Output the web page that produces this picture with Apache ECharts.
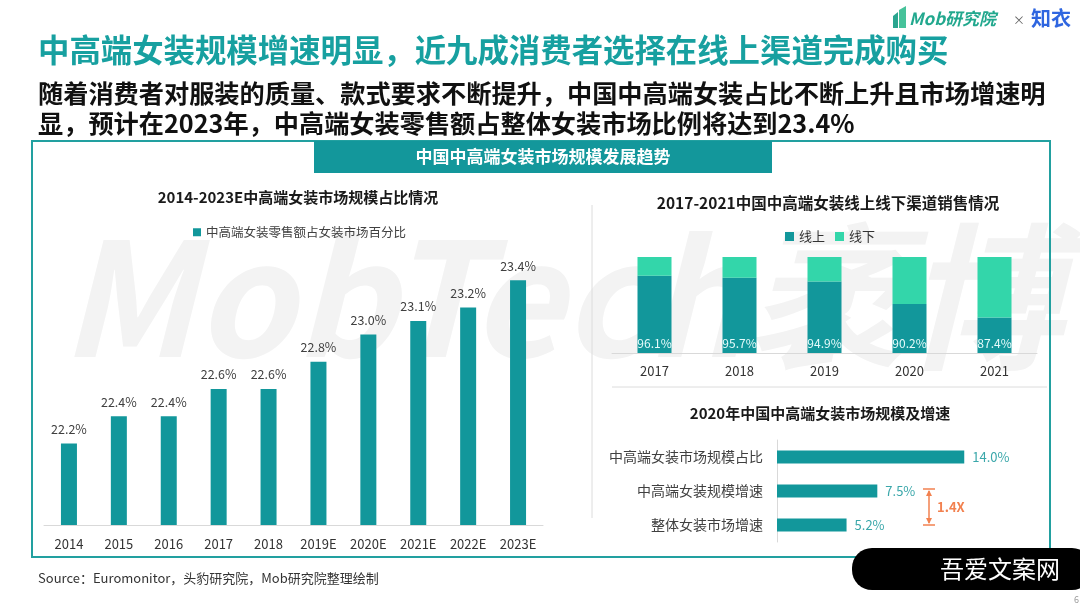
<!DOCTYPE html>
<html><head><meta charset="utf-8">
<script src="https://cdn.jsdelivr.net/npm/echarts@6/dist/echarts.min.js"></script>
<style>html,body{margin:0;padding:0;background:#fff}#c{width:1080px;height:608px}</style>
</head><body><div id="c"></div>
<script>
// ---- data ----
const shareYears = ['2014','2015','2016','2017','2018','2019E','2020E','2021E','2022E','2023E'];
const shareValues = [22.2,22.4,22.4,22.6,22.6,22.8,23.0,23.1,23.2,23.4];
const channelYears = ['2017','2018','2019','2020','2021'];
const onlineValues = [96.1,95.7,94.9,90.2,87.4];
const offlineValues = [3.9,4.3,5.1,9.8,12.6];
const sizeCats = ['中高端女装市场规模占比','中高端女装规模增速','整体女装市场增速'];
const sizeValues = [14.0,7.5,5.2];

const TEAL = '#12979b', MINT = '#33d6aa', ORANGE = '#f2814f';
const FONT = '"Noto Sans CJK SC","Noto Sans",sans-serif';
const chart = echarts.init(document.getElementById('c'));
const pct = p => p.value.toFixed(1) + '%';

chart.setOption({
  textStyle:{fontFamily:FONT},
  animation:false,
  title:[
    {text:'2014-2023E中高端女装市场规模占比情况', left:293, top:185, textAlign:'center',
     textStyle:{fontSize:15,fontWeight:'bold',color:'#1a1a1a',fontFamily:FONT}},
    {text:'2017-2021中国中高端女装线上线下渠道销售情况', left:823, top:190, textAlign:'center',
     textStyle:{fontSize:15.5,fontWeight:'bold',color:'#1a1a1a',fontFamily:FONT}},
    {text:'2020年中国中高端女装市场规模及增速', left:815, top:401, textAlign:'center',
     textStyle:{fontSize:15,fontWeight:'bold',color:'#1a1a1a',fontFamily:FONT}}
  ],
  legend:[
    {data:['中高端女装零售额占女装市场百分比'], left:188, top:221, itemWidth:8, itemHeight:8, icon:'rect',
     itemGap:6, textStyle:{fontSize:12.5,color:'#404040',fontFamily:FONT}},
    {data:['线上','线下'], left:780, top:225, itemWidth:9, itemHeight:9, icon:'rect', itemGap:10,
     textStyle:{fontSize:13,color:'#333',fontFamily:FONT}}
  ],
  grid:[
    {left:44, right:537, top:253, bottom:83},
    {left:612, right:43, top:257, bottom:255},
    {left:777, right:89, top:440, bottom:66}
  ],
  xAxis:[
    {type:'category', gridIndex:0, data:shareYears,
     axisLine:{lineStyle:{color:'#d9d9d9'}}, axisTick:{show:false},
     axisLabel:{fontSize:13,color:'#333',margin:13,fontFamily:FONT}},
    {type:'category', gridIndex:1, data:channelYears,
     axisLine:{lineStyle:{color:'#d9d9d9'}}, axisTick:{show:false},
     axisLabel:{fontSize:13,color:'#333',margin:12,fontFamily:FONT}},
    {type:'value', gridIndex:2, min:0, max:16, show:false}
  ],
  yAxis:[
    {type:'value', gridIndex:0, min:21.6, max:23.6, show:false},
    {type:'value', gridIndex:1, min:80, max:100, show:false},
    {type:'category', gridIndex:2, data:sizeCats, inverse:true,
     axisLine:{lineStyle:{color:'#d9d9d9'}}, axisTick:{show:false},
     axisLabel:{fontSize:14,color:'#404040',margin:14,fontFamily:FONT}}
  ],
  series:[
    {name:'中高端女装零售额占女装市场百分比', type:'bar', xAxisIndex:0, yAxisIndex:0, data:shareValues,
     barWidth:16, itemStyle:{color:TEAL},
     label:{show:true, position:'top', distance:8, formatter:pct, fontSize:12.5, color:'#404040', fontFamily:FONT}},
    {name:'线上', type:'bar', xAxisIndex:1, yAxisIndex:1, stack:'ch', data:onlineValues, barWidth:34,
     itemStyle:{color:TEAL},
     label:{show:true, position:'insideBottom', distance:4, formatter:pct, fontSize:12, color:'#e6fbfb', fontFamily:FONT}},
    {name:'线下', type:'bar', xAxisIndex:1, yAxisIndex:1, stack:'ch', data:offlineValues, barWidth:34,
     itemStyle:{color:MINT}},
    {name:'size', type:'bar', xAxisIndex:2, yAxisIndex:2, data:sizeValues, barWidth:13,
     itemStyle:{color:TEAL},
     label:{show:true, position:'right', distance:8, formatter:pct, fontSize:13, color:'#3aa7aa', fontFamily:FONT}}
  ]
});

// annotation positioned from the bar scale
const pA = chart.convertToPixel({xAxisIndex:2, yAxisIndex:2}, [0, sizeCats[1]]);
const pB = chart.convertToPixel({xAxisIndex:2, yAxisIndex:2}, [0, sizeCats[2]]);
const ax = 929, y1 = pA[1] - 2, y2 = pB[1];

chart.setOption({
  graphic:[
    // watermark
    {type:'text', left:60, top:218, z:-10, silent:true,
     style:{text:'MobTech袤博', fontSize:158, fontWeight:'bold', fontStyle:'italic',
            fill:'#f3f3f3', fontFamily:'"Noto Sans CJK SC",sans-serif'}},
    // panel border
    {type:'rect', shape:{x:32, y:141, width:1018, height:416}, style:{fill:'none', stroke:'#22a0a0', lineWidth:2}, z:-5},
    // header box
    {type:'rect', shape:{x:314, y:141, width:458, height:32}, style:{fill:'#13979b'}},
    {type:'text', x:543, y:157, style:{text:'中国中高端女装市场规模发展趋势', fill:'#fff', fontSize:17, fontWeight:'bold',
      fontFamily:FONT, textAlign:'center', textVerticalAlign:'middle'}},
    // separators
    {type:'line', shape:{x1:592, y1:205, x2:592, y2:518}, style:{stroke:'#dcdcdc', lineWidth:1}},
    {type:'line', shape:{x1:612, y1:387, x2:1047, y2:387}, style:{stroke:'#dcdcdc', lineWidth:1}},
    // main title
    {type:'text', x:38, y:50, style:{text:'中高端女装规模增速明显，近九成消费者选择在线上渠道完成购买', fill:'#17a0a0',
      fontSize:31.4, fontWeight:'bold', fontFamily:FONT, textVerticalAlign:'middle'}},
    {type:'text', x:38, y:93, style:{text:'随着消费者对服装的质量、款式要求不断提升，中国中高端女装占比不断上升且市场增速明', fill:'#111',
      fontSize:25.2, fontWeight:'bold', fontFamily:FONT, textVerticalAlign:'middle'}},
    {type:'text', x:38, y:123, style:{text:'显，预计在2023年，中高端女装零售额占整体女装市场比例将达到23.4%', fill:'#111',
      fontSize:25.2, fontWeight:'bold', fontFamily:FONT, textVerticalAlign:'middle'}},
    // logos
    {type:'polygon', shape:{points:[[893,28],[893,16],[898,12],[898,28]]}, style:{fill:'#2aa58f'}},
    {type:'polygon', shape:{points:[[899,28],[899,10],[906,6],[906,28]]}, style:{fill:'#46c29a'}},
    {type:'text', x:909, y:19, style:{text:'Mob研究院', fill:'#22a88e', fontSize:17, fontWeight:'bold', fontStyle:'italic',
      fontFamily:FONT, textVerticalAlign:'middle'}},
    {type:'text', x:1013, y:20, style:{text:'×', fill:'#666', fontSize:12, fontFamily:FONT, textVerticalAlign:'middle'}},
    {type:'text', x:1031, y:18, style:{text:'知衣', fill:'#2f66e0', fontSize:20, fontWeight:'bold', fontFamily:FONT, textVerticalAlign:'middle'}},
    // 1.4X annotation
    {type:'line', shape:{x1:ax-6, y1:y1, x2:ax+6, y2:y1}, style:{stroke:ORANGE, lineWidth:1.5}},
    {type:'line', shape:{x1:ax-6, y1:y2, x2:ax+6, y2:y2}, style:{stroke:ORANGE, lineWidth:1.5}},
    {type:'line', shape:{x1:ax, y1:y1+2, x2:ax, y2:y2-2}, style:{stroke:ORANGE, lineWidth:1.5}},
    {type:'polygon', shape:{points:[[ax,y1+1],[ax-3,y1+7],[ax+3,y1+7]]}, style:{fill:ORANGE}},
    {type:'polygon', shape:{points:[[ax,y2-1],[ax-3,y2-7],[ax+3,y2-7]]}, style:{fill:ORANGE}},
    {type:'text', x:ax+8, y:(y1+y2)/2, style:{text:'1.4X', fill:ORANGE, fontSize:13, fontWeight:'bold',
      fontFamily:FONT, textVerticalAlign:'middle'}},
    // source
    {type:'text', x:38, y:578, style:{text:'Source：Euromonitor，头豹研究院，Mob研究院整理绘制', fill:'#333', fontSize:13,
      fontFamily:FONT, textVerticalAlign:'middle'}},
    // bottom-right badge
    {type:'rect', shape:{x:852, y:548, width:240, height:42, r:20}, style:{fill:'#000'}},
    {type:'text', x:1000, y:569, style:{text:'吾爱文案网', fill:'#fff', fontSize:24, fontFamily:FONT,
      textAlign:'center', textVerticalAlign:'middle'}},
    {type:'text', x:1074, y:600, style:{text:'6', fill:'#999', fontSize:9, fontFamily:FONT, textVerticalAlign:'middle'}}
  ]
});
</script></body></html>
